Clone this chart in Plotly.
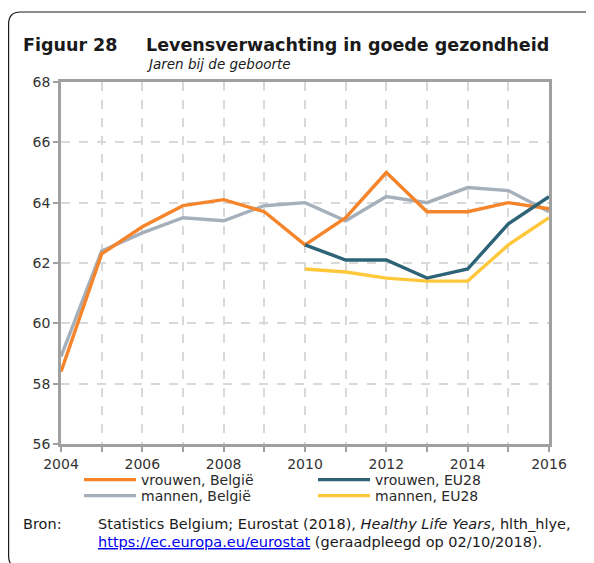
import plotly.graph_objects as go

years = list(range(2004, 2017))
years_eu = list(range(2010, 2017))
vrouwen_be = [58.4, 62.3, 63.2, 63.9, 64.1, 63.7, 62.6, 63.5, 65.0, 63.7, 63.7, 64.0, 63.8]
mannen_be = [58.9, 62.4, 63.0, 63.5, 63.4, 63.9, 64.0, 63.4, 64.2, 64.0, 64.5, 64.4, 63.7]
vrouwen_eu = [62.6, 62.1, 62.1, 61.5, 61.8, 63.3, 64.2]
mannen_eu = [61.8, 61.7, 61.5, 61.4, 61.4, 62.6, 63.5]

series_names = ["vrouwen, België", "vrouwen, EU28", "mannen, België", "mannen, EU28"]
colors = ["#F5842A", "#2C6376", "#A6B0BB", "#FFC73A"]

# page body has an 8px margin; work in screen pixels
OFF = 8
W, H = 586, 555
SL, SR, ST, SB = 61, 549, 82, 444
FONT = "DejaVu Sans"


def px(x):
    return (x - SL) / (SR - SL)


def py(y):
    return (SB - y) / (SB - ST)


fig = go.Figure()
fig.add_trace(go.Scatter(x=years, y=mannen_be, name=series_names[2], mode="lines",
                         line=dict(color=colors[2], width=3.4), legend="legend3"))
fig.add_trace(go.Scatter(x=years, y=vrouwen_be, name=series_names[0], mode="lines",
                         line=dict(color=colors[0], width=3.4), legend="legend"))
fig.add_trace(go.Scatter(x=years_eu, y=mannen_eu, name=series_names[3], mode="lines",
                         line=dict(color=colors[3], width=3.4), legend="legend4"))
fig.add_trace(go.Scatter(x=years_eu, y=vrouwen_eu, name=series_names[1], mode="lines",
                         line=dict(color=colors[1], width=3.4), legend="legend2"))

axis_line = "#A0A0A0"
grid_col = "#D9D9D9"
tick_font = dict(family=FONT, size=14, color="#333333")

fig.update_xaxes(range=[2004, 2016], tickvals=[2004, 2006, 2008, 2010, 2012, 2014, 2016],
                 showline=True, linecolor=axis_line, linewidth=2.5, mirror=True,
                 showgrid=True, gridcolor=grid_col, griddash="dash", gridwidth=1.5,
                 ticks="outside", ticklen=5, tickwidth=1.5, tickcolor=axis_line,
                 tickfont=tick_font, zeroline=False,
                 minor=dict(dtick=1, tick0=2004, showgrid=True, gridcolor=grid_col,
                            griddash="dash", gridwidth=1.5, ticks="outside", ticklen=5,
                            tickcolor=axis_line, tickwidth=1.5))
fig.update_yaxes(range=[56, 68], dtick=2, tick0=56,
                 showline=True, linecolor=axis_line, linewidth=2.5, mirror=True,
                 showgrid=True, gridcolor=grid_col, griddash="dash", gridwidth=1.5,
                 ticks="outside", ticklen=5, tickwidth=1.5, tickcolor=axis_line,
                 tickfont=tick_font, zeroline=False)

txt = "#1A1A1A"
annotations = [
    dict(x=px(22), y=py(44.5), text="<b>Figuur 28</b>", xanchor="left", yanchor="middle",
         font=dict(family=FONT, size=17.5, color=txt)),
    dict(x=px(145), y=py(44.5), text="<b>Levensverwachting in goede gezondheid</b>",
         xanchor="left", yanchor="middle", font=dict(family=FONT, size=17.5, color=txt)),
    dict(x=px(145), y=py(64), text="<i>Jaren bij de geboorte</i>", xanchor="left",
         yanchor="middle", font=dict(family=FONT, size=13.5, color=txt)),
    dict(x=px(22), y=py(524), text="Bron:", xanchor="left", yanchor="middle",
         font=dict(family=FONT, size=14.5, color=txt)),
    dict(x=px(97), y=py(524),
         text="Statistics Belgium; Eurostat (2018), <i>Healthy Life Years</i>, hlth_hlye,",
         xanchor="left", yanchor="middle", font=dict(family=FONT, size=14.5, color=txt)),
    dict(x=px(97), y=py(542),
         text="<span style=\"color:#0000EE\"><u>https://ec.europa.eu/eurostat</u></span> (geraadpleegd op 02/10/2018).",
         xanchor="left", yanchor="middle", font=dict(family=FONT, size=14.5, color=txt)),
]
for a in annotations:
    a.update(xref="paper", yref="paper", showarrow=False, borderpad=0)

# rounded frame (right and bottom edges run off the picture)
x0, y0, r = 8.6, 12, 12
x1, y1 = 620, 568
path = (f"M {px(x0)},{py(y1 - r)} L {px(x0)},{py(y0 + r)} Q {px(x0)},{py(y0)} {px(x0 + r)},{py(y0)} "
        f"L {px(x1)},{py(y0)}")
path2 = f"M {px(x0)},{py(y1 - r)} Q {px(x0)},{py(y1)} {px(x0 + r)},{py(y1)} L {px(x1)},{py(y1)}"
shapes = [
    dict(type="path", path=path, xref="paper", yref="paper", line=dict(color=txt, width=1.2)),
    dict(type="path", path=path2, xref="paper", yref="paper", line=dict(color=txt, width=1.2)),
]

leg_font = dict(family=FONT, size=14, color="#2A2A2A")


def leg(xs, ys):
    return dict(orientation="h", x=px(xs), y=py(ys), xanchor="left", yanchor="middle",
                font=leg_font, bgcolor="rgba(0,0,0,0)", borderwidth=0, itemwidth=52)


fig.update_layout(
    width=W, height=H,
    margin=dict(l=SL - OFF, r=(OFF + W) - SR, t=ST - OFF, b=(OFF + H) - SB, pad=0, autoexpand=False),
    paper_bgcolor="white", plot_bgcolor="white",
    annotations=annotations, shapes=shapes,
    showlegend=True,
    legend=leg(79, 480),
    legend2=leg(313, 480),
    legend3=leg(79, 496),
    legend4=leg(313, 496),
    font=dict(family=FONT),
)

fig.write_html("out.html")
